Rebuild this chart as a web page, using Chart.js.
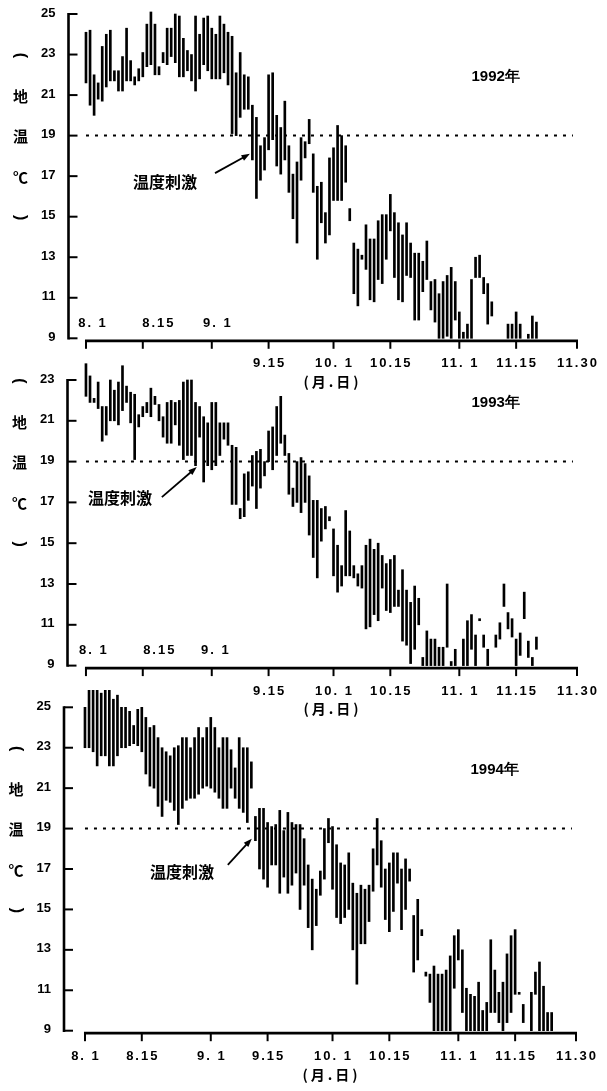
<!DOCTYPE html>
<html>
<head>
<meta charset="utf-8">
<script src="https://cdn.jsdelivr.net/npm/chart.js@4.4.1/dist/chart.umd.min.js"></script>
<style>
  html, body { margin: 0; padding: 0; background: #fff; }
  body { width: 607px; height: 1091px; position: relative; overflow: hidden; }
  .panel { position: absolute; left: 0; width: 607px; }
</style>
</head>
<body>
<div class="panel" style="top:0;height:400px"><canvas id="chart1992"></canvas></div>
<div class="panel" style="top:350px;height:375px"><canvas id="chart1993"></canvas></div>
<div class="panel" style="top:690px;height:401px"><canvas id="chart1994"></canvas></div>
<script>
// x values are days counted from Aug 1
const dayTicks = [0, 14, 31, 45, 61, 75, 92, 106, 121];
const dayLabels = ['8. 1', '8.15', '9. 1', '9.15', '10. 1', '10.15', '11. 1', '11.15', '11.30'];
const yTicks25 = [9, 11, 13, 15, 17, 19, 21, 23, 25];
const yTicks23 = [9, 11, 13, 15, 17, 19, 21, 23];
const stimulusTemp = 19;
const yTitle = ['(', '地', '温', '℃', ')'];
const yTitleAt = [23, 21, 19, 17, 15];

// daily max / min soil temperature (null = no record)
const hi1992 = [24.1, 24.2, 22.0, 21.6, 23.4, 24.0, 24.2, 22.2, 22.2, 22.9,
  24.3, 22.7, 21.9, 22.3, 23.1, 24.5, 25.1, 24.5, 22.4, 23.1,
  24.3, 24.3, 25.0, 24.9, 23.8, 23.2, 23.0, 24.9, 24.0, 24.8,
  24.9, 24.3, 24.0, 24.9, 24.5, 24.1, 23.9, 22.1, 23.1, 22.0,
  21.9, 20.5, 19.9, 18.5, 18.9, 22.0, 22.1, 20.0, 19.4, 20.7,
  18.5, 17.1, 17.7, 18.9, 18.7, 19.8, 18.1, 16.5, 16.7, 15.2,
  17.9, 18.4, 19.5, 19.0, 18.5, 15.4, 13.7, 13.4, 13.1, 14.6,
  13.9, 13.9, 14.8, 15.1, 15.1, 16.1, 15.2, 14.7, 14.1, 14.7,
  13.7, 13.2, 13.2, 12.8, 13.8, 11.8, 11.9, 11.2, 11.8, 12.1,
  12.5, 11.8, 10.3, 9.3, 9.7, 11.9, 13.0, 13.1, 12.0, 11.7,
  10.8, null, null, null, 9.7, 9.7, 10.3, 9.7, null, 9.2,
  10.1, 9.8];
const lo1992 = [21.6, 20.5, 20.0, 20.8, 20.7, 21.4, 21.7, 21.7, 21.2, 21.2,
  21.7, 21.7, 21.5, 21.7, 21.9, 22.4, 22.5, 22.0, 22.0, 22.6,
  22.5, 22.9, 22.6, 21.9, 21.9, 22.2, 21.7, 21.2, 21.8, 22.5,
  22.2, 21.8, 21.8, 21.8, 22.1, 21.5, 19.1, 19.0, 19.9, 20.3,
  20.3, 17.8, 15.9, 16.8, 17.3, 18.3, 18.8, 17.5, 17.1, 17.8,
  16.2, 14.9, 13.7, 16.8, 17.9, 18.6, 16.2, 12.9, 14.7, 13.7,
  14.1, 15.8, 15.8, 15.8, 16.7, 14.8, 11.2, 10.6, 12.9, 12.4,
  10.9, 10.8, 11.9, 11.7, 12.9, 14.3, 12.0, 10.9, 10.8, 12.1,
  12.0, 9.9, 9.9, 11.3, 11.9, 10.4, 9.8, 9.0, 9.0, 9.1,
  9.0, 9.9, 9.0, 9.0, 9.0, 9.0, 12.0, 12.0, 11.2, 9.7,
  10.1, null, null, null, 9.0, 9.0, 9.0, 9.0, null, 9.0,
  9.0, 9.0];

const hi1993 = [23.8, 23.2, 22.1, 22.9, 21.7, 21.7, 23.0, 22.5, 22.9, 23.7,
  22.7, 22.4, 22.3, 21.3, 21.7, 21.9, 22.6, 22.2, 21.8, 21.2,
  21.9, 22.0, 21.9, 22.0, 22.9, 23.0, 23.0, 21.9, 21.7, 21.2,
  20.9, 21.9, 21.9, 20.9, 20.9, 20.9, 19.8, 19.7, 16.7, 18.4,
  18.5, 19.3, 19.5, 19.6, 19.0, 20.5, 20.7, 21.7, 22.2, 20.3,
  19.4, 17.7, 19.0, 19.2, 18.9, 18.3, 17.1, 17.1, 16.7, 16.8,
  16.3, 15.7, 14.9, 13.9, 16.6, 15.6, 13.9, 13.5, 13.9, 14.9,
  15.2, 14.7, 15.0, 14.4, 14.0, 14.2, 14.4, 12.7, 13.7, 12.7,
  12.1, 12.9, 12.3, 9.4, 10.7, 10.3, 10.3, 9.9, 9.9, 13.0,
  9.2, 9.8, null, 10.3, 11.2, 11.5, 10.5, 11.3, 10.5, 9.8,
  null, 10.5, 11.1, 13.0, 11.6, 11.3, 10.3, 10.6, 12.6, 10.2,
  9.4, 10.4];
const lo1993 = [22.2, 21.9, 21.9, 21.6, 20.0, 20.3, 21.0, 21.0, 20.8, 21.5,
  21.9, 20.9, 19.1, 20.7, 21.2, 21.4, 21.2, 21.8, 21.0, 20.2,
  19.9, 19.9, 20.8, 19.8, 19.1, 19.3, 19.3, 18.8, 20.2, 18.0,
  18.8, 18.6, 18.8, 19.3, 20.1, 19.8, 16.9, 16.9, 16.2, 16.3,
  17.1, 17.8, 16.7, 17.7, 18.3, 19.0, 18.6, 19.3, 19.9, 19.3,
  17.4, 16.8, 17.0, 16.5, 17.0, 15.4, 14.3, 13.3, 15.1, 15.7,
  16.1, 13.4, 12.6, 12.9, 13.4, 13.4, 13.3, 12.9, 12.8, 10.8,
  10.9, 11.5, 11.2, 12.8, 11.7, 11.6, 11.9, 11.9, 10.2, 10.0,
  9.1, 9.8, 11.0, 9.0, 9.0, 9.0, 9.0, 9.0, 9.0, 9.9,
  9.0, 9.0, null, 9.0, 9.0, 9.8, 9.0, 11.2, 9.9, 9.0,
  null, 9.9, 10.3, 11.9, 10.8, 10.4, 9.0, 9.5, 11.3, 9.4,
  9.0, 9.8];

const hi1994 = [25.0, 25.9, 26.1, 25.9, 25.7, 26.0, 26.0, 25.4, 25.6, 25.0,
  25.0, 24.8, 24.1, 24.9, 25.0, 24.5, 24.0, 24.1, 23.5, 23.0,
  22.8, 22.6, 23.0, 23.1, 23.5, 23.5, 23.0, 23.5, 24.0, 23.5,
  24.0, 24.5, 24.0, 23.0, 23.5, 23.5, 22.9, 22.0, 23.5, 23.0,
  23.0, 22.3, 19.6, 20.0, 20.0, 19.3, 19.1, 19.2, 19.9, 18.9,
  19.8, 19.3, 19.2, 19.2, 18.5, 17.2, 16.5, 16.0, 16.9, 19.0,
  19.5, 19.1, 18.2, 17.3, 17.2, 17.8, 16.3, 15.8, 16.2, 16.0,
  16.2, 18.0, 19.5, 18.4, 17.0, 17.3, 17.8, 17.8, 17.0, 17.5,
  17.0, 14.7, 15.5, 14.0, 11.9, 11.8, 12.2, 11.8, 11.8, 12.0,
  12.7, 13.7, 14.0, 13.0, 11.1, 10.8, 10.7, 11.4, 10.0, 10.4,
  13.5, 12.0, 10.9, 11.4, 12.8, 13.7, 14.0, 10.9, 10.3, null,
  10.9, 11.9, 12.4, 11.2, 9.9, 9.9];
const lo1994 = [23.0, 23.0, 22.8, 22.1, 22.6, 22.6, 22.1, 22.1, 22.6, 23.0,
  23.0, 23.1, 23.2, 23.1, 22.8, 21.7, 21.1, 21.0, 20.1, 19.6,
  20.4, 20.3, 19.9, 19.2, 20.0, 20.4, 20.5, 20.5, 20.7, 21.0,
  21.1, 21.0, 20.8, 20.5, 20.0, 20.0, 21.0, 20.5, 20.0, 19.8,
  19.3, 21.0, 18.4, 17.0, 16.5, 16.1, 17.2, 17.2, 15.8, 16.6,
  15.8, 16.2, 16.8, 15.0, 16.2, 14.1, 13.0, 14.2, 15.7, 16.5,
  18.3, 16.0, 14.6, 14.3, 14.6, 15.0, 13.0, 11.3, 13.3, 13.3,
  14.4, 15.9, 17.2, 16.1, 14.5, 13.9, 14.9, 16.3, 14.0, 15.0,
  16.4, 11.9, 12.5, 13.7, 11.7, 10.4, 9.0, 9.0, 9.0, 9.0,
  9.0, 11.1, 12.5, 9.9, 9.0, 9.0, 9.0, 9.0, 9.0, 9.0,
  9.9, 9.9, 9.4, 9.0, 9.4, 9.9, 10.8, 10.8, 9.4, null,
  9.0, 10.8, 9.0, 9.0, 9.0, 9.0];

const FONT = "'Liberation Sans', Arial, sans-serif";
const CJK = "'Noto Sans CJK JP', 'Noto Sans CJK SC', sans-serif";

function toBars(hi, lo) {
  const out = [];
  hi.forEach((h, i) => {
    if (h !== null && lo[i] !== null) out.push({ x: i, y: [lo[i], h] });
  });
  return out;
}

// axes, labels and notes drawn on top of the bars
const decorPlugin = {
  id: 'decor',
  afterDraw(chart, args, o) {
    const ctx = chart.ctx;
    const xs = chart.scales.x, ys = chart.scales.y;
    const left = chart.chartArea.left;
    const X = v => xs.getPixelForValue(v);
    const Y = v => ys.getPixelForValue(v);
    const base = Y(9);
    const axisY = base + 2.5;
    ctx.save();
    ctx.strokeStyle = '#000';
    ctx.fillStyle = '#000';

    // y axis + inward ticks
    ctx.lineWidth = 2.6;
    ctx.beginPath(); ctx.moveTo(left, Y(o.yMax) - 1); ctx.lineTo(left, base + 1.2); ctx.stroke();
    ctx.lineWidth = 2;
    o.yTicks.forEach(v => {
      ctx.beginPath(); ctx.moveTo(left, Y(v)); ctx.lineTo(left + 9, Y(v)); ctx.stroke();
    });
    ctx.font = 'bold 13px ' + FONT;
    ctx.textAlign = 'right';
    ctx.textBaseline = 'middle';
    o.yTicks.forEach(v => ctx.fillText(String(v), left - 13, Y(v) - 1));

    // y title, vertical; the brackets are turned a quarter
    ctx.textAlign = 'center';
    yTitle.forEach((ch, i) => {
      const cx = left - 48, cy = Y(yTitleAt[i]) + 1;
      if (ch === '(' || ch === ')') {
        ctx.save();
        ctx.translate(cx, cy);
        ctx.rotate(Math.PI / 2);
        ctx.font = 'bold 16px ' + FONT;
        ctx.fillText(ch, 0, 0);
        ctx.restore();
      } else {
        ctx.font = 'bold 15px ' + CJK;
        ctx.fillText(ch, cx, cy);
      }
    });

    // x axis + downward ticks
    ctx.lineWidth = 2.8;
    ctx.beginPath(); ctx.moveTo(X(0) - 1, axisY); ctx.lineTo(X(121) + 1, axisY); ctx.stroke();
    ctx.lineWidth = 2;
    dayTicks.forEach(d => {
      ctx.beginPath(); ctx.moveTo(X(d), axisY); ctx.lineTo(X(d), axisY + 8); ctx.stroke();
    });
    ctx.font = 'bold 13px ' + FONT;
    ctx.letterSpacing = '2px';
    ctx.textAlign = 'center';
    dayLabels.forEach((t, i) => {
      if (i < o.inside) ctx.fillText(t, X(dayTicks[i]) + o.insideShift[i], base - 15);
      else ctx.fillText(t, X(dayTicks[i]) + 1, axisY + 23);
    });
    ctx.letterSpacing = '3px';
    ctx.font = 'bold 14px ' + CJK;
    ctx.textAlign = 'left';
    ctx.fillText('(月.日)', X(61) - 30, axisY + 41);
    ctx.letterSpacing = '0px';

    // 19 degree reference line
    ctx.lineWidth = 2;
    ctx.setLineDash([3, 6]);
    ctx.beginPath(); ctx.moveTo(X(0), Y(stimulusTemp)); ctx.lineTo(X(120), Y(stimulusTemp)); ctx.stroke();
    ctx.setLineDash([]);

    // year label
    ctx.font = 'bold 15px ' + FONT;
    ctx.textAlign = 'left';
    ctx.fillText(o.year, X(95), Y(21.9));

    // "temperature stimulus" note with arrow
    const a = o.note;
    ctx.font = 'bold 16px ' + CJK;
    ctx.fillText('温度刺激', X(a.text[0]), Y(a.text[1]));
    const x1 = X(a.tail[0]), y1 = Y(a.tail[1]), x2 = X(a.head[0]), y2 = Y(a.head[1]);
    const ang = Math.atan2(y2 - y1, x2 - x1);
    ctx.lineWidth = 1.8;
    ctx.beginPath(); ctx.moveTo(x1, y1); ctx.lineTo(x2 - 6 * Math.cos(ang), y2 - 6 * Math.sin(ang)); ctx.stroke();
    ctx.beginPath();
    ctx.moveTo(x2, y2);
    ctx.lineTo(x2 - 9 * Math.cos(ang - 0.35), y2 - 9 * Math.sin(ang - 0.35));
    ctx.lineTo(x2 - 9 * Math.cos(ang + 0.35), y2 - 9 * Math.sin(ang + 0.35));
    ctx.closePath(); ctx.fill();
    ctx.restore();
  }
};

function makePanel(id, hi, lo, cfg) {
  return new Chart(document.getElementById(id), {
    type: 'bar',
    data: {
      datasets: [{
        data: toBars(hi, lo),
        backgroundColor: '#000',
        borderWidth: 0,
        barThickness: 2,
        clip: false
      }]
    },
    options: {
      responsive: true,
      maintainAspectRatio: false,
      animation: false,
      layout: { padding: cfg.pad },
      plugins: {
        legend: { display: false },
        tooltip: { enabled: false },
        decor: cfg
      },
      scales: {
        x: { type: 'linear', offset: false, min: cfg.xMin, max: 121, display: false },
        y: { min: 9, max: cfg.yMax, display: false }
      }
    },
    plugins: [decorPlugin]
  });
}

makePanel('chart1992', hi1992, lo1992, {
  year: '1992年', yMax: 25, yTicks: yTicks25, xMin: -4.31,
  pad: { left: 68.5, right: 30, top: 14, bottom: 61.7 },
  inside: 3, insideShift: [7, 16, 6],
  note: { text: [11.6, 16.7], tail: [31.8, 17.15], head: [40.4, 18.1] }
});
makePanel('chart1993', hi1993, lo1993, {
  year: '1993年', yMax: 23, yTicks: yTicks23, xMin: -4.55,
  pad: { left: 67.5, right: 30, top: 30, bottom: 59.4 },
  inside: 3, insideShift: [8, 17, 4],
  note: { text: [0.5, 17.2], tail: [18.7, 17.26], head: [27.3, 18.73] }
});
makePanel('chart1994', hi1994, lo1994, {
  year: '1994年', yMax: 25, yTicks: yTicks25, xMin: -5.17,
  pad: { left: 64, right: 31, top: 17.3, bottom: 60.3 },
  inside: 0, insideShift: [],
  note: { text: [16.0, 16.85], tail: [35.2, 17.2], head: [41.1, 18.5] }
});
</script>
</body>
</html>
